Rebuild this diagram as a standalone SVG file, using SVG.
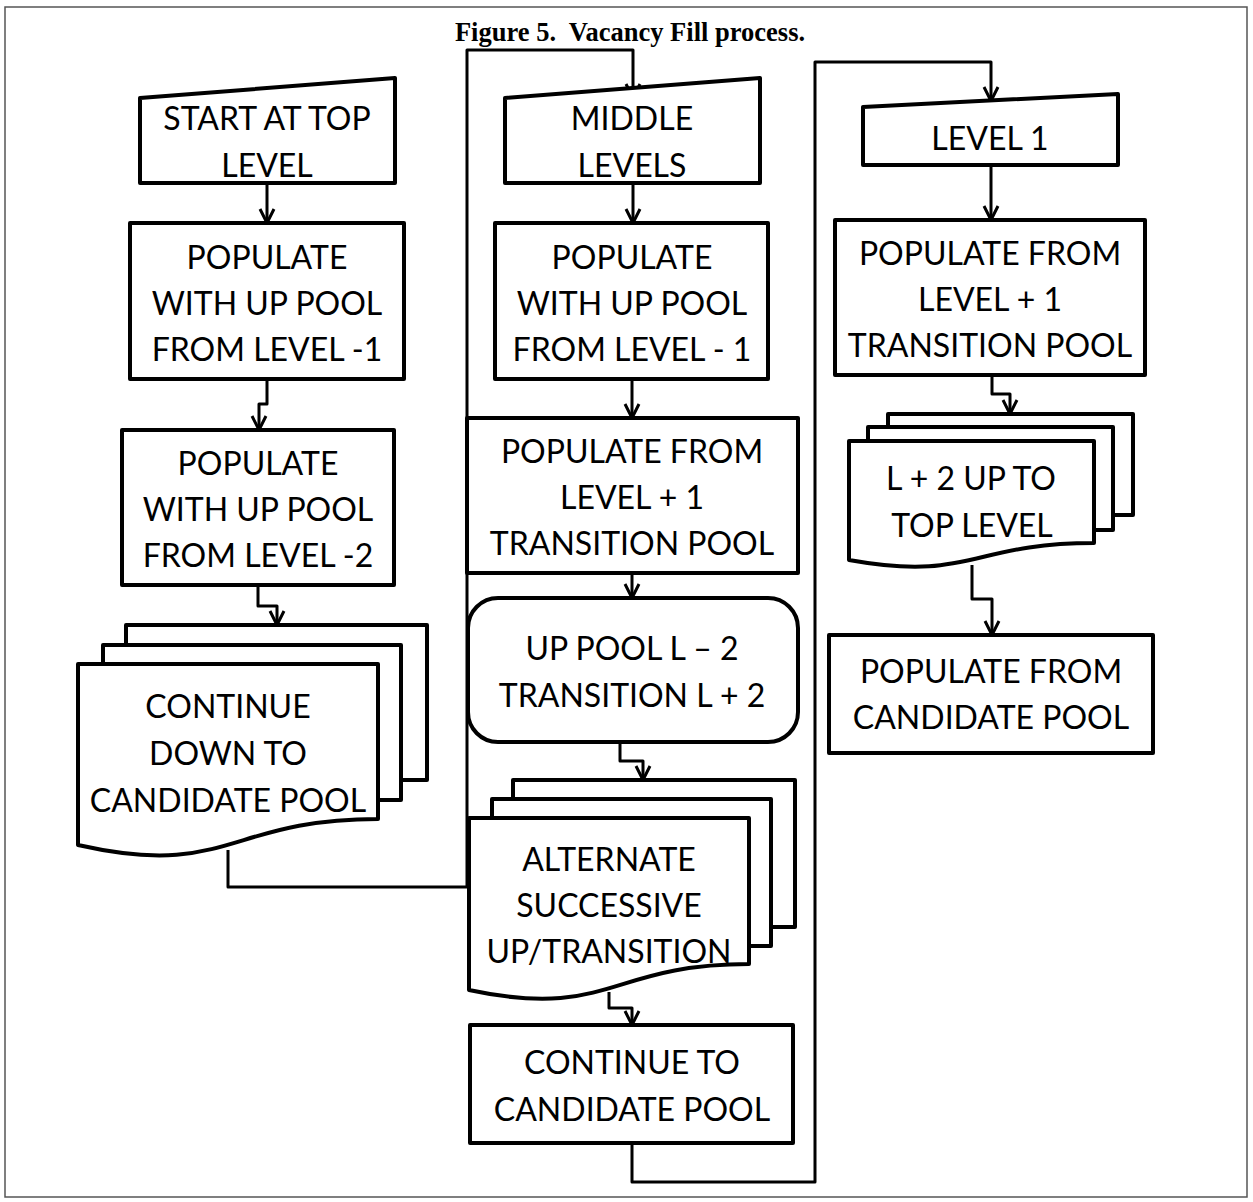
<svg xmlns="http://www.w3.org/2000/svg" width="1253" height="1202" viewBox="0 0 1253 1202">
  <defs>
    <style>
      .frame { fill: #fff; stroke: #555; stroke-width: 1.5; }
      .title { font-family: "Liberation Serif", "Times New Roman", serif; font-weight: bold; font-size: 26.5px; fill: #000; white-space: pre; }
      .shape { fill: #fff; stroke: #000; stroke-width: 4; stroke-linejoin: round; }
      .lbl { font-family: Lato, "Open Sans", "Liberation Sans", sans-serif; font-size: 32px; fill: #000; text-anchor: middle; }
      .wire { fill: none; stroke: #000; stroke-width: 3; stroke-linejoin: round; }
    </style>
    <marker id="arrow" viewBox="0 0 20 20" refX="17" refY="10" markerWidth="20" markerHeight="20" markerUnits="userSpaceOnUse" orient="auto">
      <path d="M3,3 L17,10 L3,17" fill="none" stroke="#000" stroke-width="3" stroke-linejoin="miter"/>
    </marker>
  </defs>

  <rect class="frame" x="5" y="7" width="1242" height="1190"/>
  <text class="title" x="630" y="41" text-anchor="middle" xml:space="preserve">Figure 5.  Vacancy Fill process.</text>

  <!-- connectors -->
  <g id="connectors" class="wire">
    <path d="M267,183 V223" marker-end="url(#arrow)"/>
    <path d="M267,379 V404 H259 V430" marker-end="url(#arrow)"/>
    <path d="M258,585 V606 H277 V625" marker-end="url(#arrow)"/>
    <path d="M228,850 V887 H467 V50 H633 V98" marker-end="url(#arrow)"/>
    <path d="M633,183 V223" marker-end="url(#arrow)"/>
    <path d="M632,379 V418" marker-end="url(#arrow)"/>
    <path d="M632,573 V598" marker-end="url(#arrow)"/>
    <path d="M620,742 V761 H643 V780" marker-end="url(#arrow)"/>
    <path d="M609,992 V1008 H632 V1025" marker-end="url(#arrow)"/>
    <path d="M632,1143 V1182 H815 V62 H991 V101" marker-end="url(#arrow)"/>
    <path d="M991,165 V220" marker-end="url(#arrow)"/>
    <path d="M992,375 V394 H1010 V414" marker-end="url(#arrow)"/>
    <path d="M972,565 V599 H992 V635" marker-end="url(#arrow)"/>
  </g>

  <!-- left column -->
  <g id="start-top">
    <path class="shape" d="M140,98 L395,78 L395,183 L140,183 Z"/>
    <text class="lbl" x="267" y="130">START AT TOP</text>
    <text class="lbl" x="267" y="177">LEVEL</text>
  </g>
  <g id="populate-up-1">
    <rect class="shape" x="130" y="223" width="274" height="156"/>
    <text class="lbl" x="267" y="269">POPULATE</text>
    <text class="lbl" x="267" y="315">WITH UP POOL</text>
    <text class="lbl" x="267" y="361">FROM LEVEL -1</text>
  </g>
  <g id="populate-up-2">
    <rect class="shape" x="122" y="430" width="272" height="155"/>
    <text class="lbl" x="258" y="475">POPULATE</text>
    <text class="lbl" x="258" y="521">WITH UP POOL</text>
    <text class="lbl" x="258" y="567">FROM LEVEL -2</text>
  </g>
  <g id="continue-down">
    <rect class="shape" x="126" y="625" width="301" height="155"/>
    <rect class="shape" x="103" y="645" width="298" height="155"/>
    <path class="shape" d="M78,664 H378 V819 C228,819 228,879 78,845 Z"/>
    <text class="lbl" x="228" y="718">CONTINUE</text>
    <text class="lbl" x="228" y="765">DOWN TO</text>
    <text class="lbl" x="228" y="812">CANDIDATE POOL</text>
  </g>

  <!-- middle column -->
  <g id="middle-levels">
    <path class="shape" d="M505,98 L760,78 L760,183 L505,183 Z"/>
    <text class="lbl" x="632" y="130">MIDDLE</text>
    <text class="lbl" x="632" y="177">LEVELS</text>
  </g>
  <g id="populate-up-mid">
    <rect class="shape" x="495" y="223" width="273" height="156"/>
    <text class="lbl" x="632" y="269">POPULATE</text>
    <text class="lbl" x="632" y="315">WITH UP POOL</text>
    <text class="lbl" x="632" y="361">FROM LEVEL - 1</text>
  </g>
  <g id="populate-transition-mid">
    <rect class="shape" x="467" y="418" width="331" height="155"/>
    <text class="lbl" x="632" y="463">POPULATE FROM</text>
    <text class="lbl" x="632" y="509">LEVEL + 1</text>
    <text class="lbl" x="632" y="555">TRANSITION POOL</text>
  </g>
  <g id="up-pool-transition">
    <rect class="shape" x="468" y="598" width="330" height="144" rx="30" ry="30"/>
    <text class="lbl" x="632" y="660">UP POOL L – 2</text>
    <text class="lbl" x="632" y="707">TRANSITION L + 2</text>
  </g>
  <g id="alternate">
    <rect class="shape" x="513" y="780" width="282" height="147"/>
    <rect class="shape" x="492" y="799" width="279" height="147"/>
    <path class="shape" d="M469,818 H749 V964 C609,964 609,1020 469,990 Z"/>
    <text class="lbl" x="609" y="871">ALTERNATE</text>
    <text class="lbl" x="609" y="917">SUCCESSIVE</text>
    <text class="lbl" x="609" y="963">UP/TRANSITION</text>
  </g>
  <g id="continue-mid">
    <rect class="shape" x="470" y="1025" width="323" height="118"/>
    <text class="lbl" x="632" y="1074">CONTINUE TO</text>
    <text class="lbl" x="632" y="1121">CANDIDATE POOL</text>
  </g>

  <!-- right column -->
  <g id="level-1">
    <path class="shape" d="M863,107 L1118,94 L1118,165 L863,165 Z"/>
    <text class="lbl" x="990" y="150">LEVEL 1</text>
  </g>
  <g id="populate-transition-l1">
    <rect class="shape" x="835" y="220" width="310" height="155"/>
    <text class="lbl" x="990" y="265">POPULATE FROM</text>
    <text class="lbl" x="990" y="311">LEVEL + 1</text>
    <text class="lbl" x="990" y="357">TRANSITION POOL</text>
  </g>
  <g id="up-to-top">
    <rect class="shape" x="888" y="414" width="245" height="101"/>
    <rect class="shape" x="868" y="427" width="245" height="103"/>
    <path class="shape" d="M849,441 H1094 V543 C971,543 971,582 849,560 Z"/>
    <text class="lbl" x="971" y="490">L + 2 UP TO</text>
    <text class="lbl" x="972" y="537">TOP LEVEL</text>
  </g>
  <g id="populate-candidate">
    <rect class="shape" x="829" y="635" width="324" height="118"/>
    <text class="lbl" x="991" y="683">POPULATE FROM</text>
    <text class="lbl" x="991" y="729">CANDIDATE POOL</text>
  </g>
</svg>
